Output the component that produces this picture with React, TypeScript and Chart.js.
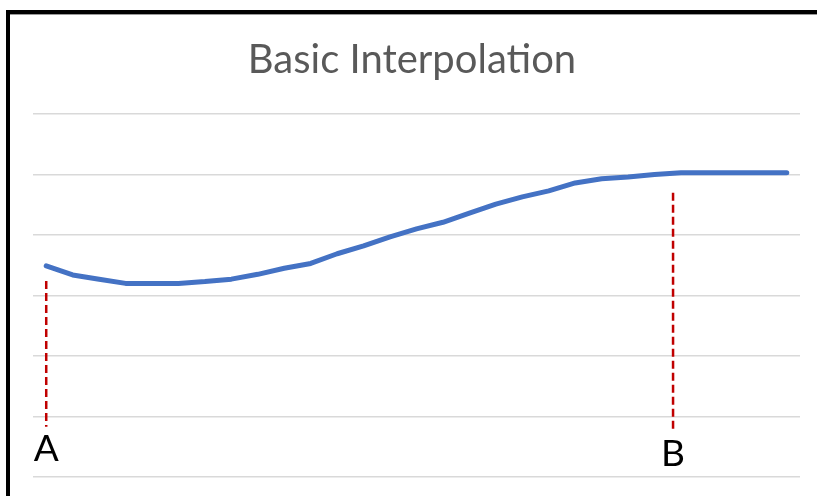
import React, { useEffect, useRef } from "react";
import { Chart, registerables } from "chart.js";

Chart.register(...registerables);

const categories: string[] = Array.from({ length: 29 }, (_, i) => String(i + 1));
const seriesValues: number[] = [
  3.49, 3.34, 3.27, 3.2, 3.2, 3.2, 3.23, 3.27, 3.35, 3.45, 3.53, 3.69, 3.82, 3.97,
  4.1, 4.21, 4.36, 4.51, 4.63, 4.73, 4.86, 4.93, 4.96, 5.0, 5.03, 5.03, 5.03, 5.03, 5.03,
];
const markerLabels: string[] = ["A", "B"];
const markerIndex: number[] = [0, 23.7];
const markerTop: number[] = [3.24, 4.7];
const markerBottom: number[] = [0.83, 0.78];
const yTicks: number[] = [0, 1, 2, 3, 4, 5, 6];
const titleText = "Basic Interpolation";

const overlayPlugin = {
  id: "overlay",
  afterDraw(chart: any) {
    const ctx = chart.ctx as CanvasRenderingContext2D;
    const x = chart.scales.x;
    const y = chart.scales.y;
    ctx.save();
    // frame
    ctx.fillStyle = "#000000";
    ctx.fillRect(6, 10, 817 - 6, 4);
    ctx.fillRect(6, 10, 4, 496 - 10);
    ctx.fillStyle = "#9a9a9a";
    ctx.fillRect(10, 14, 817 - 10, 1);
    // title
    ctx.fillStyle = "#595959";
    ctx.font = "40px Lato";
    ctx.textAlign = "center";
    ctx.textBaseline = "alphabetic";
    ctx.fillText(titleText, 412, 73);
    // markers
    markerLabels.forEach((lab, i) => {
      const px = x.getPixelForValue(markerIndex[i]);
      ctx.strokeStyle = "#C00000";
      ctx.lineWidth = 2.5;
      ctx.setLineDash([8, 4]);
      ctx.beginPath();
      ctx.moveTo(px, y.getPixelForValue(markerTop[i]));
      ctx.lineTo(px, y.getPixelForValue(markerBottom[i]));
      ctx.stroke();
      ctx.setLineDash([]);
      ctx.fillStyle = "#000000";
      ctx.font = "37px Lato";
      ctx.textAlign = "center";
      ctx.fillText(lab, px, i === 0 ? 461 : 466);
    });
    ctx.restore();
  },
};

export default function App() {
  const canvasRef = useRef<HTMLCanvasElement | null>(null);
  useEffect(() => {
    document.body.style.margin = "0";
    const chart = new Chart(canvasRef.current as HTMLCanvasElement, {
      type: "line",
      data: {
        labels: categories,
        datasets: [
          {
            data: seriesValues,
            borderColor: "#4472C4",
            borderWidth: 5,
            borderCapStyle: "round",
            borderJoinStyle: "round",
            pointRadius: 0,
            tension: 0,
            fill: false,
          },
        ],
      },
      options: {
        responsive: false,
        animation: false,
        devicePixelRatio: 1,
        layout: { padding: { left: 33, right: 17, top: 114, bottom: 19 } },
        plugins: { legend: { display: false }, title: { display: false }, tooltip: { enabled: false } },
        scales: {
          x: { type: "category", offset: true, display: false },
          y: {
            min: yTicks[0],
            max: yTicks[yTicks.length - 1],
            afterBuildTicks: (s: any) => {
              s.ticks = yTicks.map((v) => ({ value: v }));
            },
            ticks: { display: false },
            border: { display: false },
            grid: { color: "#d9d9d9", lineWidth: 1.5, drawTicks: false },
          },
        },
      },
      plugins: [overlayPlugin],
    });
    return () => chart.destroy();
  }, []);
  return (
    <div style={{ position: "fixed", left: 0, top: 0, width: 817, height: 496, background: "#ffffff" }}>
      <canvas ref={canvasRef} width={817} height={496} />
    </div>
  );
}
